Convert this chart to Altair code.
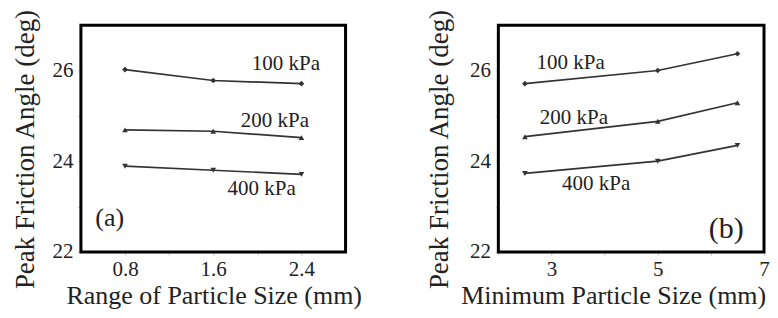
import altair as alt
import pandas as pd

# ---------------- data ----------------
series = ["100 kPa", "200 kPa", "400 kPa"]
shapes = ["diamond", "triangle-up", "triangle-down"]

# panel (a): range of particle size
a_x = [0.8, 1.6, 2.4]
a_100 = [26.02, 25.78, 25.71]
a_200 = [24.69, 24.66, 24.52]
a_400 = [23.89, 23.80, 23.71]

# panel (b): minimum particle size
b_x = [2.5, 5.0, 6.5]
b_100 = [25.71, 26.00, 26.37]
b_200 = [24.54, 24.88, 25.29]
b_400 = [23.73, 24.00, 24.35]

# series label anchors (data coordinates)
a_label_x = [1.95, 1.85, 1.73]
a_label_y = [26.15, 24.89, 23.39]
b_label_x = [2.72, 2.78, 3.20]
b_label_y = [26.16, 24.95, 23.50]

# axis ranges and tick values / labels
y_range = [22, 27]
a_range = [0.4, 2.8]
b_range = [2, 7]
y_ticks = [22, 23, 24, 25, 26]
y_labels = ["22", "24", "26"]
a_ticks = [0.8, 1.2, 1.6, 2.0, 2.4]
a_tick_labels = ["0.8", "1.6", "2.4"]
b_ticks = [2, 3, 4, 5, 6, 7]
b_tick_labels = ["3", "5", "7"]

FONT = "Liberation Serif, Times New Roman, DejaVu Serif, serif"
INK = "#222222"
LINE = "#333333"


def long_df(xs, ys_list):
    rows = []
    for name, ys in zip(series, ys_list):
        for xv, yv in zip(xs, ys):
            rows.append({"series": name, "x": xv, "y": yv})
    return pd.DataFrame(rows)


def panel(xs, ys_list, lab_x, lab_y, tag, tag_x, tag_y, tag_size,
          xdomain, xticks, xlabels, xtitle, width, title_x, ytitle_pad):
    df = long_df(xs, ys_list)
    lab_df = pd.DataFrame({"x": lab_x, "y": lab_y, "t": series})
    tag_df = pd.DataFrame({"x": [tag_x], "y": [tag_y], "t": [tag]})
    frame_df = pd.DataFrame({"x": [xdomain[0]], "x2": [xdomain[1]],
                             "y": [y_range[0]], "y2": [y_range[1]]})

    xlab_list = ",".join("'%s'" % s for s in xlabels)
    ylab_list = ",".join("'%s'" % s for s in y_labels)

    xscale = alt.Scale(domain=xdomain, nice=False, zero=False)
    yscale = alt.Scale(domain=y_range, nice=False, zero=False)

    x_main = alt.X(
        "x:Q", scale=xscale,
        axis=alt.Axis(
            values=xticks, format=".1f" if isinstance(xticks[0], float) else "d",
            labelExpr="indexof([%s], datum.label) >= 0 ? datum.label : ''" % xlab_list,
            title=xtitle, titleX=title_x, titleAlign="center", labelFlush=False,
            labelPadding=4, titlePadding=3, grid=False, domain=False,
        ),
    )
    y_main = alt.Y(
        "y:Q", scale=yscale,
        axis=alt.Axis(
            values=y_ticks, format="d",
            labelExpr="indexof([%s], datum.label) >= 0 ? datum.label : ''" % ylab_list,
            title="Peak Friction Angle (deg)", titlePadding=ytitle_pad,
            titleY=124, labelPadding=5, grid=False, domain=False,
        ),
    )

    box = alt.Chart(frame_df).mark_rect(
        fillOpacity=0, stroke="black", strokeWidth=3
    ).encode(x=x_main, x2="x2", y=y_main, y2="y2")
    line = alt.Chart(df).mark_line(color=LINE, strokeWidth=1.7).encode(
        x="x:Q", y="y:Q", detail="series:N"
    )
    pts = alt.Chart(df).mark_point(filled=True, color=LINE, size=32, opacity=1).encode(
        x="x:Q", y="y:Q",
        shape=alt.Shape("series:N", scale=alt.Scale(domain=series, range=shapes), legend=None),
    )
    labels = alt.Chart(lab_df).mark_text(
        align="left", baseline="middle", font=FONT, fontSize=21, color=INK
    ).encode(x="x:Q", y="y:Q", text="t:N")
    tagmark = alt.Chart(tag_df).mark_text(
        align="left", baseline="middle", font=FONT, fontSize=tag_size, color=INK
    ).encode(x="x:Q", y="y:Q", text="t:N")

    return alt.layer(box, line, pts, labels, tagmark).properties(width=width, height=227)


pa = panel(a_x, [a_100, a_200, a_400], a_label_x, a_label_y,
           "(a)", 0.53, 22.75, 26,
           a_range, a_ticks, a_tick_labels,
           "Range of Particle Size (mm)", 265, 133, 12)

pb = panel(b_x, [b_100, b_200, b_400], b_label_x, b_label_y,
           "(b)", 5.96, 22.5, 30,
           b_range, b_ticks, b_tick_labels,
           "Minimum Particle Size (mm)", 266, 115, 16)

chart = alt.hconcat(pa, pb, spacing=153, bounds="flush").properties(
    padding={"left": 3, "top": 0, "right": 0, "bottom": 0},
    background="white",
).configure_view(
    stroke=None
).configure_axis(
    tickColor="#bbbbbb", tickSize=3, tickWidth=1,
    labelFont=FONT, labelFontSize=21, labelColor=INK,
    titleFont=FONT, titleFontSize=27, titleFontWeight="normal", titleColor=INK,
).configure_axisBottom(
    titleFontSize=26
)

chart.save("out.html", embed_options={"renderer": "svg", "actions": False})
